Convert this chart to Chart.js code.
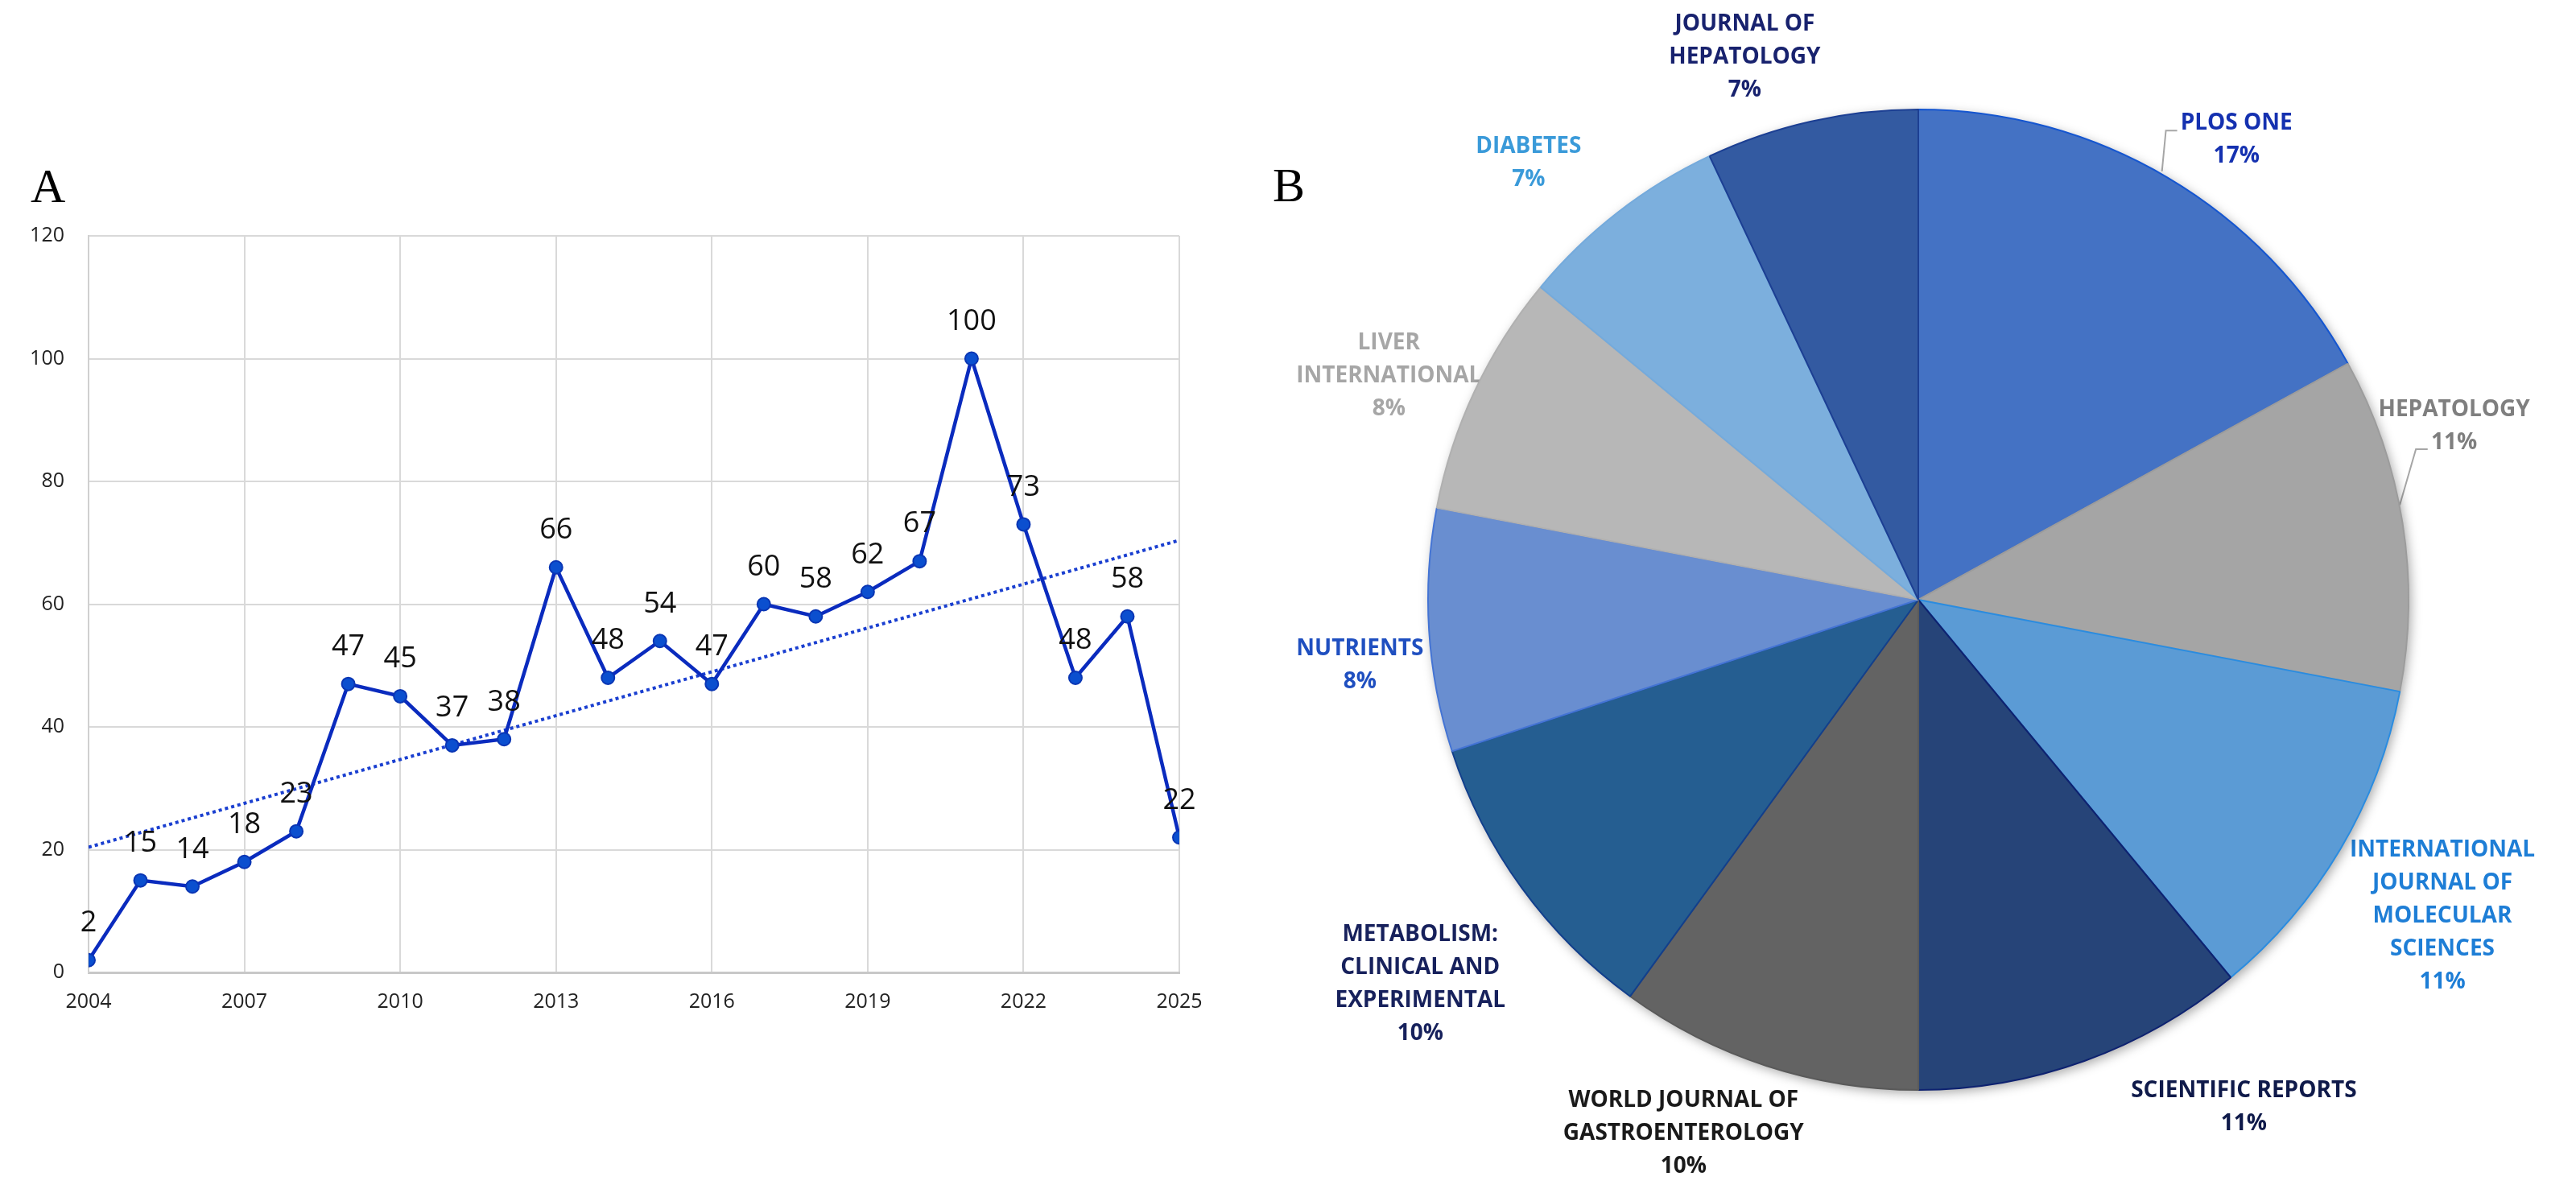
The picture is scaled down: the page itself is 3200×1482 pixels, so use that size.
<!DOCTYPE html>
<html>
<head>
<meta charset="utf-8">
<script src="https://cdn.jsdelivr.net/npm/chart.js@4.4.1/dist/chart.umd.min.js"></script>
<style>
    html, body { margin: 0; padding: 0; background: #fff; }
    #wrap { position: relative; width: 3200px; height: 1482px; overflow: hidden; }
    #cA { position: absolute; left: 0; top: 0; }
    #cB { position: absolute; left: 1560px; top: 0; }
</style>
</head>
<body>
<div id="wrap">
    <canvas id="cA" width="1560" height="1482" style="width:1560px;height:1482px"></canvas>
    <canvas id="cB" width="1640" height="1482" style="width:1640px;height:1482px"></canvas>
</div>
<script>
// A - 연도별 논문 수
const years = [2004, 2005, 2006, 2007, 2008, 2009, 2010, 2011, 2012, 2013, 2014,
               2015, 2016, 2017, 2018, 2019, 2020, 2021, 2022, 2023, 2024, 2025];
const publications = [2, 15, 14, 18, 23, 47, 45, 37, 38, 66, 48,
                      54, 47, 60, 58, 62, 67, 100, 73, 48, 58, 22];
const trendYears = [2004, 2025];
const trendValues = [20.4, 70.4];
const xTicks = [2004, 2007, 2010, 2013, 2016, 2019, 2022, 2025];
const yTicks = [0, 20, 40, 60, 80, 100, 120];

// B - 저널 비율
const journals = ['PLOS ONE', 'HEPATOLOGY', 'INTERNATIONAL JOURNAL OF MOLECULAR SCIENCES',
                  'SCIENTIFIC REPORTS', 'WORLD JOURNAL OF GASTROENTEROLOGY',
                  'METABOLISM: CLINICAL AND EXPERIMENTAL', 'NUTRIENTS', 'LIVER INTERNATIONAL',
                  'DIABETES', 'JOURNAL OF HEPATOLOGY'];
const shares = [17, 11, 11, 11, 10, 10, 8, 8, 7, 7];

// 줄바꿈 / 색 / 위치 (반지름 단위, 파이 중심 기준)
const journalLines = [
    ['PLOS ONE'], ['HEPATOLOGY'], ['INTERNATIONAL', 'JOURNAL OF', 'MOLECULAR', 'SCIENCES'],
    ['SCIENTIFIC REPORTS'], ['WORLD JOURNAL OF', 'GASTROENTEROLOGY'],
    ['METABOLISM:', 'CLINICAL AND', 'EXPERIMENTAL'], ['NUTRIENTS'], ['LIVER', 'INTERNATIONAL'],
    ['DIABETES'], ['JOURNAL OF', 'HEPATOLOGY']
];
const sliceColors = ['#4472C4', '#A5A5A5', '#5B9BD5', '#264478', '#636363',
                     '#255E91', '#698ED0', '#B7B7B7', '#7CAFDD', '#335AA1'];
const sliceEdges = ['#1556D0', '#9C9C9C', '#2A8CE0', '#0E2270', '#5A5A5A',
                    '#123F8C', '#4474D4', '#B0B0B0', '#74AADC', '#1C3F93'];
const labelColors = ['#1531B0', '#7F7F7F', '#1E7ED6', '#0F1A4A', '#1A1A1A',
                     '#17215C', '#1F4FC0', '#A6A6A6', '#3A9AD9', '#18226E'];
const labelSpots = [[0.649, -0.939], [1.093, -0.354], [1.069, 0.645], [0.664, 1.035], [-0.479, 1.089],
                    [-1.016, 0.784], [-1.139, 0.134], [-1.080, -0.457], [-0.795, -0.890], [-0.354, -1.107]];
const leaderPaths = [
    [[0.528, -0.957], [0.505, -0.957], [0.497, -0.874]],
    [[1.039, -0.307], [1.015, -0.307], [0.982, -0.193]]
];

const panelLetter = {
    id: 'panelLetter',
    afterDraw(chart, args, opts) {
        const ctx = chart.ctx;
        ctx.save();
        ctx.font = '60px "Liberation Serif", "DejaVu Serif", serif';
        ctx.fillStyle = '#000';
        ctx.textAlign = 'left';
        ctx.textBaseline = 'alphabetic';
        ctx.fillText(opts.text, opts.x, opts.y);
        ctx.restore();
    }
};

const pointValues = {
    id: 'pointValues',
    afterDatasetsDraw(chart) {
        const ctx = chart.ctx;
        const meta = chart.getDatasetMeta(0);
        ctx.save();
        ctx.font = '36px "Open Sans", sans-serif';
        ctx.fillStyle = '#111';
        ctx.textAlign = 'center';
        ctx.textBaseline = 'middle';
        meta.data.forEach((pt, i) => {
            ctx.fillText(String(publications[i]), pt.x, pt.y - 46);
        });
        ctx.restore();
    }
};

const pieLabels = {
    id: 'pieLabels',
    beforeDatasetsDraw(chart) {
        const arc = chart.getDatasetMeta(0).data[0];
        const cx = arc.x, cy = arc.y, r = arc.outerRadius;
        const ctx = chart.ctx;
        ctx.save();
        ctx.strokeStyle = '#A6A6A6';
        ctx.lineWidth = 2;
        leaderPaths.forEach(path => {
            ctx.beginPath();
            path.forEach(([u, v], k) => {
                if (k === 0) ctx.moveTo(cx + u * r, cy + v * r);
                else ctx.lineTo(cx + u * r, cy + v * r);
            });
            ctx.stroke();
        });
        ctx.font = 'bold 28px "Open Sans", sans-serif';
        ctx.textAlign = 'center';
        ctx.textBaseline = 'middle';
        journalLines.forEach((lines, i) => {
            const all = lines.concat([shares[i] + '%']);
            const x = cx + labelSpots[i][0] * r;
            const y0 = cy + labelSpots[i][1] * r - (all.length - 1) * 41 / 2;
            ctx.fillStyle = labelColors[i];
            all.forEach((t, k) => ctx.fillText(t, x, y0 + k * 41));
        });
        // 그림자
        ctx.shadowColor = 'rgba(0,0,0,0.35)';
        ctx.shadowBlur = 14;
        ctx.shadowOffsetX = 3;
        ctx.shadowOffsetY = 4;
        ctx.fillStyle = '#fff';
        ctx.beginPath();
        ctx.arc(cx, cy, r, 0, Math.PI * 2);
        ctx.fill();
        ctx.restore();
    }
};

new Chart(document.getElementById('cA'), {
    type: 'line',
    data: {
        datasets: [{
            data: years.map((y, i) => ({ x: y, y: publications[i] })),
            borderColor: '#0A2BBE',
            borderWidth: 4.5,
            pointRadius: 8,
            pointBackgroundColor: '#0B4FCF',
            pointBorderColor: '#0A36B4',
            pointBorderWidth: 2,
            tension: 0
        }, {
            data: trendYears.map((y, i) => ({ x: y, y: trendValues[i] })),
            borderColor: '#1A3FD0',
            borderWidth: 4,
            borderDash: [4, 4],
            pointRadius: 0,
            tension: 0
        }]
    },
    options: {
        responsive: false,
        devicePixelRatio: 1,
        animation: false,
        layout: { padding: { left: 0, top: 293, right: 95, bottom: 204 } },
        plugins: {
            legend: { display: false },
            tooltip: { enabled: false },
            panelLetter: { text: 'A', x: 38, y: 251 }
        },
        scales: {
            x: {
                type: 'linear',
                min: 2004,
                max: 2025,
                afterBuildTicks: s => { s.ticks = xTicks.map(v => ({ value: v })); },
                afterFit: s => { s.height = 70; },
                grid: { color: '#D9D9D9', lineWidth: 2, drawTicks: false },
                border: { color: '#C8C8C8', width: 3 },
                ticks: {
                    padding: 22,
                    color: '#222',
                    font: { family: 'Open Sans', size: 25 },
                    maxRotation: 0,
                    callback: v => String(v)
                }
            },
            y: {
                min: 0,
                max: 120,
                afterBuildTicks: s => { s.ticks = yTicks.map(v => ({ value: v })); },
                afterFit: s => { s.width = 110; },
                grid: { color: '#D9D9D9', lineWidth: 2, drawTicks: false },
                border: { color: '#D0D0D0', width: 2 },
                ticks: {
                    padding: 30,
                    color: '#222',
                    font: { family: 'Open Sans', size: 25 }
                }
            }
        }
    },
    plugins: [pointValues, panelLetter]
});

new Chart(document.getElementById('cB'), {
    type: 'pie',
    data: {
        labels: journals,
        datasets: [{
            data: shares,
            backgroundColor: sliceColors,
            borderColor: sliceEdges,
            borderWidth: 2
        }]
    },
    options: {
        responsive: false,
        devicePixelRatio: 1,
        animation: false,
        layout: { padding: { left: 213, right: 207, top: 135, bottom: 127 } },
        plugins: {
            legend: { display: false },
            tooltip: { enabled: false },
            panelLetter: { text: 'B', x: 21, y: 250 }
        }
    },
    plugins: [pieLabels, panelLetter]
});
</script>
</body>
</html>
